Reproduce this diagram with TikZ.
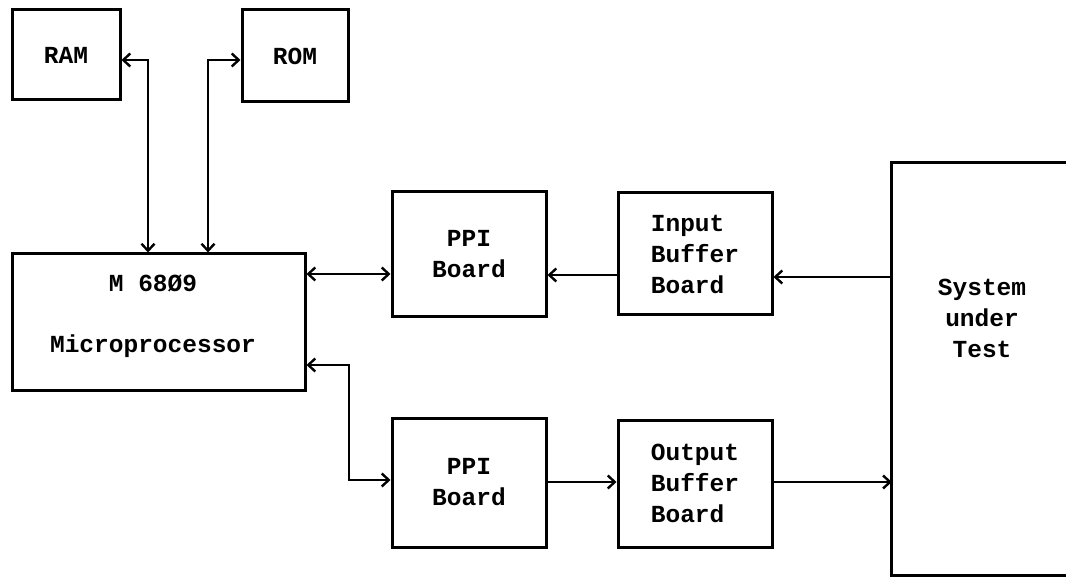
\documentclass[tikz,border=0pt]{standalone}
\usepackage{fontspec}
\setmonofont{Liberation Mono}
\usetikzlibrary{arrows.meta}
\begin{document}
\begin{tikzpicture}[x=1pt,y=-1pt,
  blk/.style={draw, line width=3pt, rectangle, inner sep=0pt,
    font=\ttfamily\bfseries\fontsize{24.5}{31}\selectfont},
  con/.style={line width=2.8pt},
  tip/.tip={Straight Barb[length=7pt,width=13pt,line width=2.4pt]},
  bi/.style={con, tip-tip},
  uni/.style={con, -tip},
  lbl/.style={font=\ttfamily\bfseries\fontsize{24.5}{31}\selectfont, align=center}]
\useasboundingbox (0,0) rectangle (1066,577);
\fill[white] (0,0) rectangle (1066,577);
% boxes
\node[blk, minimum width=108pt, minimum height=90pt] (ram) at (66,55) {RAM};
\node[blk, minimum width=106pt, minimum height=92pt] (rom) at (295,56) {ROM};
\node[blk, minimum width=293pt, minimum height=136pt] (micro) at (158.5,322) {};
\node[lbl] (mtitle) at (153,283) {M 68Ø9};
\node[lbl] (mname) at (153,346) {Microprocessor};
\node[blk, minimum width=154pt, minimum height=125pt, align=center] (ppi1) at (469,254.5) {PPI\\Board};
\node[blk, minimum width=154pt, minimum height=122pt, align=left] (inb) at (695,254) {Input\\Buffer\\Board};
\node[blk, minimum width=154pt, minimum height=129pt, align=center] (ppi2) at (469,482.5) {PPI\\Board};
\node[blk, minimum width=154pt, minimum height=127pt, align=left] (outb) at (695,483.5) {Output\\Buffer\\Board};
% system under test (open to the right)
\node[minimum width=174pt, minimum height=412pt, inner sep=0pt] (sut) at (979,369) {};
\node[lbl] (suttext) at (982,318) {System\\under\\Test};
\draw[line width=3pt] (sut.north east) -- (sut.north west) -- (sut.south west) -- (sut.south east);
% connectors
\draw[bi] (ram.east |- 0,60) -| (148,0 |- micro.north);
\draw[bi] (208,0 |- micro.north) |- (rom.west |- 0,60);
\draw[bi] (micro.east |- 0,274) -- (ppi1.west |- 0,274);
\draw[uni] (inb.west |- 0,275) -- (ppi1.east |- 0,275);
\draw[uni] (sut.west |- 0,277) -- (inb.east |- 0,277);
\draw[bi] (micro.east |- 0,365) -- (349,365) -- (349,480) -- (ppi2.west |- 0,480);
\draw[uni] (ppi2.east |- 0,482) -- (outb.west |- 0,482);
\draw[uni] (outb.east |- 0,482) -- (sut.west |- 0,482);
\end{tikzpicture}
\end{document}
